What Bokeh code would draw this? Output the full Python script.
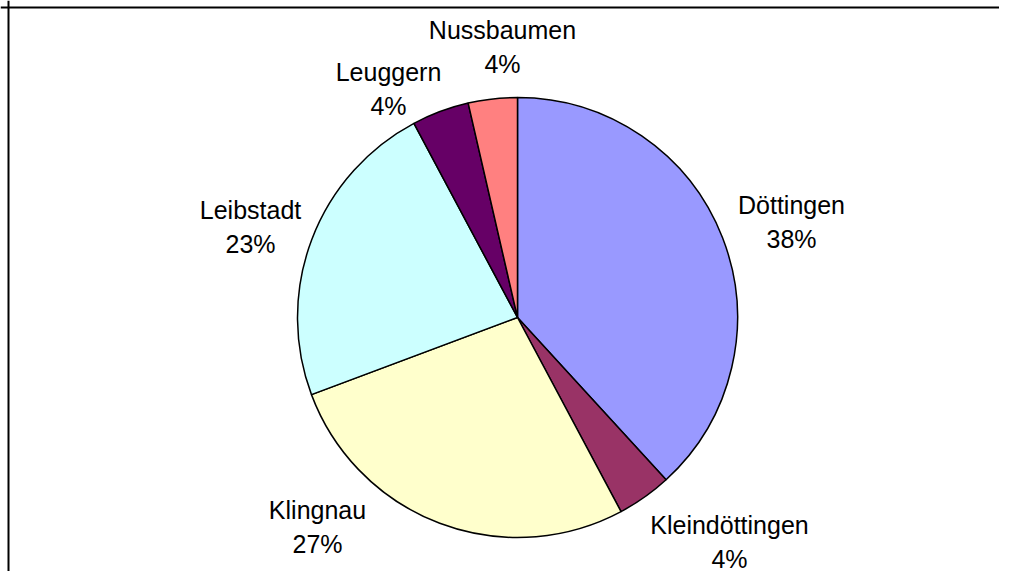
import math
from bokeh.plotting import figure
from bokeh.models import Range1d, Span, ColumnDataSource
from bokeh.core.properties import value
from bokeh.embed import file_html
from bokeh.resources import INLINE

# ---- data ----
categories = ["Döttingen", "Kleindöttingen", "Klingnau", "Leibstadt", "Leuggern", "Nussbaumen"]
shares = [38.2, 4.0, 27.1, 22.9, 4.2, 3.6]
colors = ["#9999FF", "#993366", "#FFFFCC", "#CCFFFF", "#660066", "#FF8080"]

# ---- layout (canvas pixels, measured from top-left) ----
W, H = 999, 571
cx_px, cy_px, R = 517, 317, 220
label_px = [(791, 213), (729, 533), (317, 518), (250, 218), (388, 80), (502, 38)]
line_gap = 34
baseline_fix = 9
border_x_px, border_y_px = 8, 7

total = sum(shares)
starts, ends = [], []
cum = 0.0
for s in shares:
    starts.append(math.pi / 2 - 2 * math.pi * cum / total)
    cum += s
    ends.append(math.pi / 2 - 2 * math.pi * cum / total)

src = ColumnDataSource(dict(
    x=[cx_px] * len(shares), y=[H - cy_px] * len(shares),
    start=starts, end=ends, color=colors, name=categories,
))

p = figure(width=W, height=H, x_range=Range1d(0, W), y_range=Range1d(0, H),
           output_backend="svg", toolbar_location=None, min_border=0,
           background_fill_color="white", border_fill_color="white")
p.axis.visible = False
p.grid.visible = False
p.outline_line_color = None

p.wedge(x="x", y="y", radius=R, start_angle="start", end_angle="end",
        direction="clock", fill_color="color", line_color="black",
        line_width=1.5, source=src)

names = list(categories)
pcts = [f"{round(100 * s / total)}%" for s in shares]
lx = [pt[0] for pt in label_px]
ly1 = [H - pt[1] + baseline_fix for pt in label_px]
ly2 = [H - pt[1] + baseline_fix - line_gap for pt in label_px]

for txt, yy in ((names, ly1), (pcts, ly2)):
    p.text(x=lx, y=yy, text=txt, text_align="center", text_baseline="alphabetic",
           text_font=value("Liberation Sans"), text_font_size="25px", text_color="black")

p.add_layout(Span(location=border_x_px, dimension="height", line_color="black", line_width=2))
p.add_layout(Span(location=H - border_y_px, dimension="width", line_color="black", line_width=2))

open("out.html", "w").write(file_html(p, INLINE))
